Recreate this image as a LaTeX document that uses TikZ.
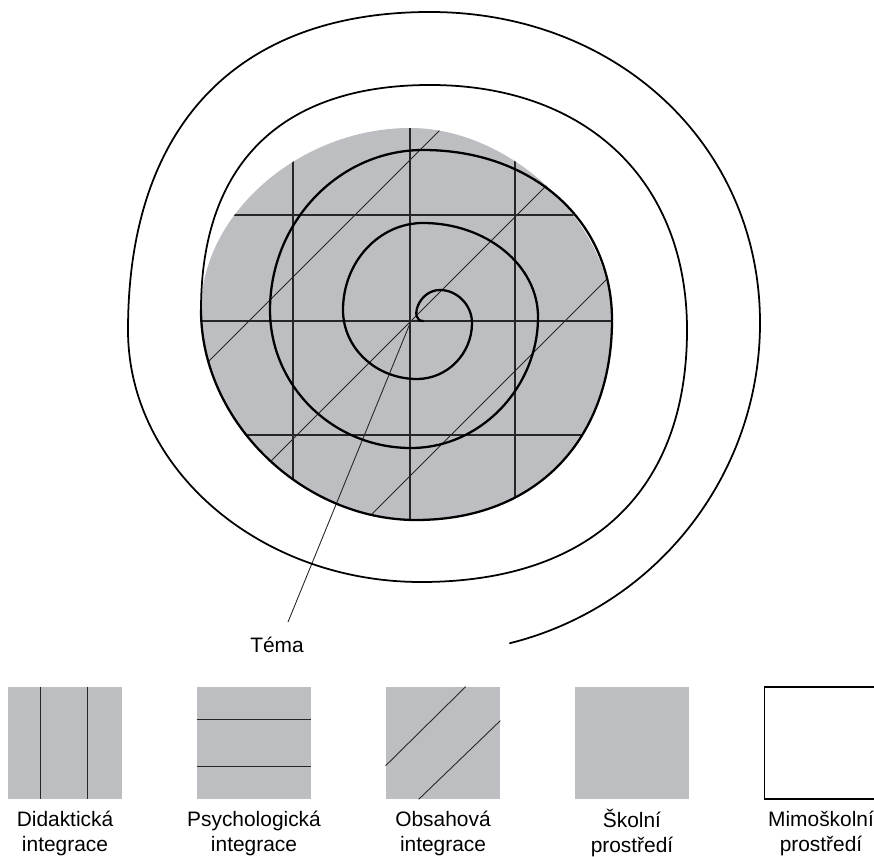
\documentclass[tikz,border=0pt]{standalone}
\usepackage{fontspec}
\setmainfont{Liberation Sans}
\usetikzlibrary{calc}
\definecolor{discgrey}{RGB}{189,190,194}
\tikzset{disc turn/.style={line width=1.3pt, line join=round, line cap=round}}
\tikzset{disc ring/.style={line width=1.0pt, line join=round, line cap=round}}
\tikzset{disc grid/.style={line width=0.6pt, black!85}}
\tikzset{disc slant/.style={line width=0.5pt, black!85}}
\tikzset{disc key/.style={draw=none, fill=discgrey, inner sep=0pt, minimum width=2.28cm, minimum height=2.24cm}}
\tikzset{disc label/.style={align=center, inner sep=0pt, font=\fontsize{11.9}{14.2}\selectfont}}
\newcommand{\discoutline}{(201,310) .. controls +(0,-96) and +(-110,0) .. (410,128)
	.. controls +(101,0) and +(0,-96) .. (612,320)
	.. controls +(0,120) and +(120,0) .. (416,520)
	.. controls +(-114,0) and +(0,111) .. (201,310) -- cycle}

\begin{document}
\begin{tikzpicture}[x=0.02cm,y=-0.02cm]
		\useasboundingbox (0,0) rectangle (874,857);

		\fill[discgrey] \discoutline;
		\begin{scope}
			\clip \discoutline;
			\foreach \gx in {293,410,515}
				\draw[disc grid] (\gx,100) -- (\gx,560);
			\foreach \gy in {215,321,435}
				\draw[disc grid] (180,\gy) -- (640,\gy);
			\foreach \gd in {570,732,886}
				\draw[disc slant] (\gd-560,560) -- (\gd-100,100);
		\end{scope}

		\coordinate (hub) at (411,321);
		\coordinate (temaend) at (288,622);
		\node[disc label] (tema) at (277,645) {Téma};
		\draw[disc slant] (hub) -- (temaend);

		\draw[disc turn] (423,321) .. controls +(-14,0) and +(-22,0) .. (440,290)
			.. controls +(17,0) and +(0,-18) .. (472,323)
			.. controls +(0,31) and +(30,0) .. (417,379)
			.. controls +(-41,0) and +(0,38) .. (343,310)
			.. controls +(0,-48) and +(-44,0) .. (423,223)
			.. controls +(63,0) and +(0,-52) .. (538,317)
			.. controls +(0,70) and +(70,0) .. (411,448)
			.. controls +(-78,0) and +(0,76) .. (270,310)
			.. controls +(0,-88) and +(-84,0) .. (423,150)
			.. controls +(110,0) and +(0,-99) .. (612,320)
			.. controls +(0,120) and +(120,0) .. (416,520)
			.. controls +(-114,0) and +(0,111) .. (201,310);
		\draw[disc ring] (201,310) .. controls +(0,-146) and +(-149,0) .. (430,85)
			.. controls +(157,0) and +(0,-149) .. (687,330)
			.. controls +(0,161) and +(170,0) .. (421,582)
			.. controls +(-161,0) and +(0,139) .. (128,330)
			.. controls +(0,-204) and +(-193,0) .. (430,12)
			.. controls +(188,0) and +(0,-177) .. (760,323)
			arc[start angle=0, end angle=76, radius=330];

		\node[disc key] (didactic) at (65,743) {};
		\node[disc key] (psycho) at (254,743) {};
		\node[disc key] (content) at (443,743) {};
		\node[disc key] (school) at (632,743) {};
		\node[disc key, fill=white, draw=black, line width=0.6pt] (outside) at (821,743) {};

		\draw[disc grid] ($(didactic.north west)+(33,0)$) -- ($(didactic.south west)+(33,0)$);
		\draw[disc grid] ($(didactic.north west)+(80,0)$) -- ($(didactic.south west)+(80,0)$);
		\draw[disc grid] ($(psycho.north west)+(0,33)$) -- ($(psycho.north east)+(0,33)$);
		\draw[disc grid] ($(psycho.north west)+(0,80)$) -- ($(psycho.north east)+(0,80)$);
		\draw[disc slant] ($(content.north west)+(0,79)$) -- ($(content.north west)+(80,0)$);
		\draw[disc slant] ($(content.south west)+(33,0)$) -- ($(content.north east)+(0,34)$);

		\node[disc label] (didlabel) at (65,833) {Didaktická\\integrace};
		\node[disc label] (psylabel) at (254,833) {Psychologická\\integrace};
		\node[disc label] (conlabel) at (443,833) {Obsahová\\integrace};
		\node[disc label] (schlabel) at (632,833) {Školní\\prostředí};
		\node[disc label] (outlabel) at (821,833) {Mimoškolní\\prostředí};
	\end{tikzpicture}
\end{document}
